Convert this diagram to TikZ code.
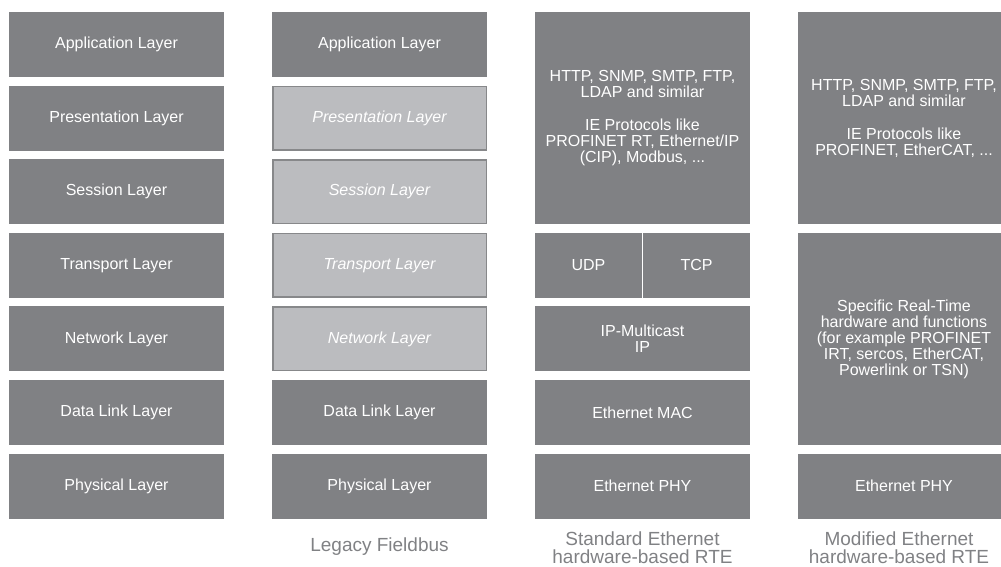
\documentclass[tikz,border=0pt]{standalone}
\usepackage{fontspec}
\setmainfont{Liberation Sans}
\usetikzlibrary{positioning}

\definecolor{layergray}{HTML}{808184}
\definecolor{unusedgray}{HTML}{BBBCBF}
\definecolor{framegray}{HTML}{87888A}

\begin{document}
\begin{tikzpicture}[x=1pt, y=1pt, node distance=8.6pt and 48pt,
      every node/.append style={align=center, outer sep=0pt},
      layer/.style={fill=layergray, text=white, inner sep=2pt,
        minimum width=215pt, minimum height=65pt,
        font=\fontsize{16}{16}\selectfont},
      unused/.style={layer, fill=unusedgray, draw=framegray, line width=1.5pt,
        outer sep=.75pt, minimum width=213.5pt, minimum height=63.5pt,
        font=\fontsize{16}{16}\selectfont\itshape},
      big/.style={layer, minimum height=212.2pt},
      half/.style={layer, minimum width=107pt},
      caption/.style={text=layergray, inner sep=0pt,
        font=\fontsize{19}{18.5}\selectfont}]

     \useasboundingbox (0,0) rectangle (1001,566);

     % OSI model
     \node [layer] (app1) at (116.5,521.5) {Application Layer};
     \node [layer, below=of app1] (pres1) {Presentation Layer};
     \node [layer, below=of pres1] (sess1) {Session Layer};
     \node [layer, below=of sess1] (trans1) {Transport Layer};
     \node [layer, below=of trans1] (net1) {Network Layer};
     \node [layer, below=of net1] (link1) {Data Link Layer};
     \node [layer, below=of link1] (phy1) {Physical Layer};

     % legacy fieldbus
     \node [layer, right=of app1] (app2) {Application Layer};
     \node [unused, right=of pres1] (pres2) {Presentation Layer};
     \node [unused, right=of sess1] (sess2) {Session Layer};
     \node [unused, right=of trans1] (trans2) {Transport Layer};
     \node [unused, right=of net1] (net2) {Network Layer};
     \node [layer, right=of link1] (link2) {Data Link Layer};
     \node [layer, right=of phy1] (phy2) {Physical Layer};
     \node [caption, below=19.5pt of phy2] (cap2) {Legacy Fieldbus};

     % standard ethernet
     \node [big, right=of app2.north east, anchor=north west] (apps3)
           {HTTP, SNMP, SMTP, FTP,\\LDAP and similar\\[17pt]IE Protocols like\\PROFINET RT, Ethernet/IP\\(CIP), Modbus, ...};
     \node [half, below=of apps3.south west, anchor=north west] (udp) {UDP};
     \node [half, right=1pt of udp] (tcp) {TCP};
     \node [layer, below=of udp.south west, anchor=north west] (ip) {IP-Multicast\\IP};
     \node [layer, below=of ip] (mac) {Ethernet MAC};
     \node [layer, below=of mac] (phy3) {Ethernet PHY};
     \node [caption, below=13pt of phy3] (cap3) {Standard Ethernet\\hardware-based RTE};

     % modified ethernet
     \node [big, minimum width=212pt, right=of apps3.north east, anchor=north west] (apps4)
           {HTTP, SNMP, SMTP, FTP,\\LDAP and similar\\[17pt]IE Protocols like\\PROFINET, EtherCAT, ...};
     \node [big, minimum width=212pt, below=of apps4] (rt4)
           {Specific Real-Time\\hardware and functions\\(for example PROFINET\\IRT, sercos, EtherCAT,\\Powerlink or TSN)};
     \node [layer, minimum width=212pt, below=of rt4] (phy4) {Ethernet PHY};
     \node [caption, below=13pt of phy4, xshift=-5pt] (cap4) {Modified Ethernet\\hardware-based RTE};
  \end{tikzpicture}
\end{document}
